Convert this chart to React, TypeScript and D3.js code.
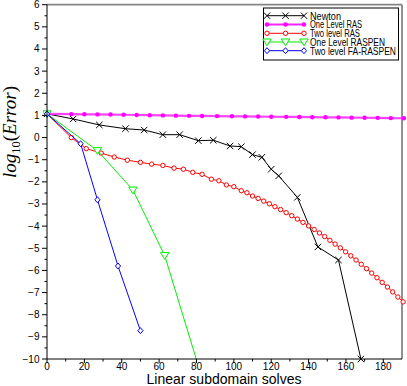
import React from 'react';
import * as d3 from 'd3';

// series values
const newtonX = [0, 14, 28, 42, 52, 62, 71, 81, 89, 98, 104, 110, 115, 120, 124, 134, 145, 156, 168];
const newtonY = [1.07, 0.84, 0.57, 0.4, 0.34, 0.13, 0.13, -0.14, -0.12, -0.38, -0.41, -0.77, -0.89, -1.43, -1.73, -2.7, -4.94, -5.53, -10];

const rasX = [0, 13, 20, 27, 34, 41, 48, 55, 62, 69, 76, 83, 91, 99, 106, 113, 120, 128, 135, 142, 149, 156, 163, 170, 177, 184, 191];
const rasY = [1.07, 1.06, 1.05, 1.045, 1.04, 1.03, 1.02, 1.01, 1.0, 0.99, 0.98, 0.975, 0.97, 0.96, 0.955, 0.95, 0.94, 0.935, 0.93, 0.92, 0.915, 0.91, 0.9, 0.895, 0.89, 0.88, 0.87];

const ras2X = [0, 13, 21, 29, 36, 43, 50, 56, 62, 68, 73, 78, 83, 88, 92, 96, 100, 104, 107, 110, 113, 116, 119, 122, 125, 128, 131, 134, 137, 140, 143, 145.8, 148.6, 151.4, 154.2, 157, 159.8, 162.6, 165.4, 168.2, 171, 173.8, 176.6, 179.4, 182.2, 185, 187.8, 190.6];
const ras2Y = [1.07, 0.0, -0.5, -0.7, -0.88, -1.02, -1.12, -1.2, -1.26, -1.38, -1.43, -1.57, -1.66, -1.88, -1.95, -2.14, -2.22, -2.4, -2.49, -2.64, -2.75, -2.87, -2.99, -3.12, -3.25, -3.39, -3.53, -3.68, -3.83, -3.99, -4.15, -4.31, -4.47, -4.64, -4.81, -4.98, -5.16, -5.34, -5.53, -5.72, -5.92, -6.12, -6.33, -6.54, -6.75, -6.97, -7.2, -7.42];

const raspenX = [0, 27, 46, 63, 86];
const raspenY = [1.07, -0.59, -2.37, -5.33, -11.7];

const faX = [0, 18, 27, 38, 50];
const faY = [1.07, -0.28, -2.81, -5.8, -8.72];

const xTicks = [0, 20, 40, 60, 80, 100, 120, 140, 160, 180];
const yTicks = [6, 5, 4, 3, 2, 1, 0, -1, -2, -3, -4, -5, -6, -7, -8, -9, -10];

const W = 407, H = 386;
const x = d3.scaleLinear().domain([0, 190]).range([47, 402]);
const y = d3.scaleLinear().domain([-10, 6]).range([359, 4.7]);

type Kind = 'cross' | 'dot' | 'circle' | 'tri' | 'diamond';

const series = [
  { name: 'Newton', xs: newtonX, ys: newtonY, color: '#000000', kind: 'cross' as Kind, width: 1, tlen: 31 },
  { name: 'One Level RAS', xs: rasX, ys: rasY, color: '#ff22ff', kind: 'dot' as Kind, width: 2.2, tlen: 52 },
  { name: 'Two level RAS', xs: ras2X, ys: ras2Y, color: '#ff0000', kind: 'circle' as Kind, width: 1, tlen: 50 },
  { name: 'One Level RASPEN', xs: raspenX, ys: raspenY, color: '#00ee00', kind: 'tri' as Kind, width: 1, tlen: 75 },
  { name: 'Two level FA-RASPEN', xs: faX, ys: faY, color: '#0000ff', kind: 'diamond' as Kind, width: 1, tlen: 86 },
];

function Marker({ kind, cx, cy, color }: { kind: Kind; cx: number; cy: number; color: string }) {
  if (kind === 'cross') {
    const s = 3.2;
    return <path d={`M${cx - s},${cy - s}L${cx + s},${cy + s}M${cx - s},${cy + s}L${cx + s},${cy - s}`} stroke={color} strokeWidth={1} fill="none" />;
  }
  if (kind === 'dot') return <circle cx={cx} cy={cy} r={2.2} fill={color} />;
  if (kind === 'circle') return <circle cx={cx} cy={cy} r={2.2} fill="white" stroke={color} strokeWidth={1} />;
  if (kind === 'tri') {
    return <path d={`M${cx - 4.2},${cy - 3}L${cx + 4.2},${cy - 3}L${cx},${cy + 3.8}Z`} fill="white" stroke={color} strokeWidth={1} />;
  }
  return <path d={`M${cx},${cy - 3}L${cx + 2.6},${cy}L${cx},${cy + 3}L${cx - 2.6},${cy}Z`} fill="white" stroke={color} strokeWidth={1} />;
}

export default function App() {
  React.useEffect(() => { document.body.style.margin = '0'; }, []);
  const line = d3.line<number>();
  const minorX = d3.range(10, 190, 20);
  const minorY = d3.range(-9.5, 6, 1);
  const sans = '"Liberation Sans", Arial, Helvetica, sans-serif';
  const legX0 = 267, legX1 = 304, legText = 310;
  const legRows = [15.7, 24.5, 33.3, 42, 50.7];
  const squeeze = 0.78; // legend text is condensed in the reference

  return (
    <svg width={W} height={H} style={{ position: 'absolute', left: 0, top: 0, background: 'white' }} fontFamily={sans}>
      <defs>
        <clipPath id="plot"><rect x={47} y={4.7} width={355} height={354.3} /></clipPath>
        <clipPath id="marks"><rect x={43} y={1} width={363} height={362} /></clipPath>
      </defs>

      {/* frame: gray top/right, black axes */}
      <line x1={47} x2={402} y1={4.7} y2={4.7} stroke="#858585" strokeWidth={1.8} />
      <line x1={402} x2={402} y1={4.7} y2={359} stroke="#858585" strokeWidth={1.8} />

      {series.map((s) => (
        <g key={s.name}>
          <path
            d={line(s.xs.map((v, i) => [x(v), y(s.ys[i])]) as any) || ''}
            fill="none" stroke={s.color} strokeWidth={s.width} clipPath="url(#plot)"
            strokeOpacity={s.kind === 'dot' ? 0.85 : 1}
          />
          <g clipPath="url(#marks)">
            {s.xs.map((v, i) => (y(s.ys[i]) <= 363 && x(v) <= 404 ?
              <Marker key={i} kind={s.kind} cx={x(v)} cy={y(s.ys[i])} color={s.kind === 'dot' ? '#ff00ff' : s.color} /> : null))}
          </g>
        </g>
      ))}

      <line x1={47} x2={47} y1={4.7} y2={359} stroke="#000" strokeWidth={1} />
      <line x1={47} x2={402} y1={359} y2={359} stroke="#000" strokeWidth={1} />

      {xTicks.map((t) => (
        <g key={'x' + t}>
          <line x1={x(t)} x2={x(t)} y1={359} y2={363} stroke="#000" />
          <text x={x(t)} y={369.5} fontSize={10} textAnchor="middle" fill="#000">{t}</text>
        </g>
      ))}
      {minorX.map((t) => <line key={'mx' + t} x1={x(t)} x2={x(t)} y1={359} y2={361.5} stroke="#000" />)}

      {yTicks.map((t) => (
        <g key={'y' + t}>
          <line x1={42} x2={47} y1={y(t)} y2={y(t)} stroke="#000" />
          <text x={39.5} y={y(t) + 3.5} fontSize={10} textAnchor="end" fill="#000">{t < 0 ? '\u2212' + Math.abs(t) : t}</text>
        </g>
      ))}
      {minorY.map((t) => <line key={'my' + t} x1={44.5} x2={47} y1={y(t)} y2={y(t)} stroke="#000" />)}

      <text x={224} y={383.5} fontSize={14} textAnchor="middle" fill="#000">Linear subdomain solves</text>

      <text transform="translate(16,132) rotate(-90)" textAnchor="middle" fontSize={19}
        fontFamily='"Liberation Serif", "DejaVu Serif", serif' fill="#000">
        <tspan fontStyle="italic">log</tspan>
        <tspan fontSize={12.5} dy={4}>10</tspan>
        <tspan dy={-4}>(</tspan>
        <tspan fontStyle="italic">Error</tspan>
        <tspan>)</tspan>
      </text>

      {/* legend */}
      <rect x={263.5} y={8} width={135} height={52} fill="white" stroke="#000" strokeWidth={1} />
      {series.map((s, i) => {
        const ry = legRows[i];
        const mc = s.kind === 'dot' ? '#ff00ff' : s.color;
        return (
          <g key={'leg' + s.name}>
            <line x1={legX0} x2={legX1} y1={ry} y2={ry} stroke={s.color} strokeWidth={s.width} />
            {[legX0, (legX0 + legX1) / 2, legX1].map((mx) => <Marker key={mx} kind={s.kind} cx={mx} cy={ry} color={mc} />)}
            <text transform={`translate(${legText},${ry + 3.8}) scale(${squeeze},1)`} fontSize={11}
              textLength={s.tlen / squeeze} lengthAdjust="spacingAndGlyphs" fill="#000">{s.name}</text>
          </g>
        );
      })}
    </svg>
  );
}
